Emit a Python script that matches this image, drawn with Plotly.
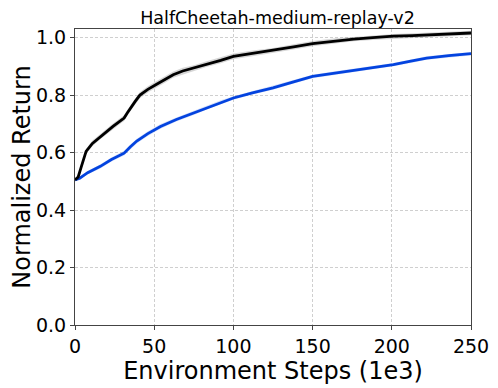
import plotly.graph_objects as go

# environment steps (1e3) and normalized return
steps_ours = [0, 2, 4, 7, 11, 16, 20, 24, 28, 31, 33, 35, 38, 41, 46, 51, 57, 62, 68, 75, 83, 92,
              100, 112, 125, 138, 150, 163, 176, 188, 201, 213, 226, 238, 250]
ret_ours = [0.505, 0.515, 0.551, 0.604, 0.632, 0.656, 0.672, 0.691, 0.708, 0.720, 0.738, 0.755,
            0.778, 0.800, 0.820, 0.836, 0.855, 0.871, 0.884, 0.894, 0.908, 0.921,
            0.935, 0.945, 0.955, 0.968, 0.979, 0.988, 0.995, 1.000, 1.005, 1.007, 1.010, 1.013, 1.016]
std_ours = [0.004, 0.006, 0.008, 0.009, 0.010, 0.010, 0.010, 0.010, 0.010, 0.010, 0.010, 0.010,
            0.010, 0.011, 0.011, 0.011, 0.011, 0.011, 0.011, 0.010, 0.010, 0.010,
            0.010, 0.010, 0.009, 0.009, 0.009, 0.009, 0.008, 0.008, 0.008, 0.008, 0.008, 0.008, 0.008]

steps_base = [0, 3, 8, 16, 23, 31, 35, 39, 46, 54, 64, 75, 83, 92, 100, 112, 125, 138, 150, 163,
              176, 188, 201, 212, 222, 236, 250]
ret_base = [0.505, 0.511, 0.530, 0.552, 0.576, 0.598, 0.620, 0.640, 0.666, 0.691, 0.715, 0.738,
            0.757, 0.775, 0.790, 0.808, 0.825, 0.846, 0.865, 0.876, 0.886, 0.896, 0.906, 0.918,
            0.929, 0.937, 0.944]
std_base = [0.003, 0.005, 0.006, 0.007, 0.007, 0.008, 0.008, 0.008, 0.008, 0.008, 0.007, 0.007,
            0.007, 0.007, 0.006, 0.006, 0.006, 0.006, 0.006, 0.006, 0.006, 0.006, 0.006, 0.006,
            0.006, 0.006, 0.006]

x_ticks = [0, 50, 100, 150, 200, 250]
y_ticks = [0.0, 0.2, 0.4, 0.6, 0.8, 1.0]

series = [
    (steps_base, ret_base, std_base, "#0343df", "rgba(3,67,223,0.16)"),
    (steps_ours, ret_ours, std_ours, "black", "rgba(0,0,0,0.16)"),
]

fig = go.Figure()
for xs, ys, sd, col, fill in series:
    upper = [y + s for y, s in zip(ys, sd)]
    lower = [y - s for y, s in zip(ys, sd)]
    fig.add_trace(go.Scatter(x=xs + xs[::-1], y=upper + lower[::-1], fill="toself",
                             fillcolor=fill, line_width=0, mode="lines",
                             hoverinfo="skip", showlegend=False))
    fig.add_trace(go.Scatter(x=xs, y=ys, mode="lines", line=dict(color=col, width=2.8),
                             showlegend=False))

axis_common = dict(
    showline=True, linecolor="#444444", linewidth=1.2, mirror=True,
    ticks="outside", ticklen=4, tickcolor="#444444",
    showgrid=True, gridcolor="#cfcfcf", griddash="3px,2px", gridwidth=1,
    zeroline=False, tickfont=dict(size=19, color="black"), automargin=False,
)

fig.update_xaxes(range=[0, 250], tickvals=x_ticks,
                 title=dict(text="Environment Steps (1e3)", font=dict(size=24, color="black"), standoff=2),
                 **axis_common)
fig.update_yaxes(range=[0, 1.03], tickvals=y_ticks, tickformat=".1f",
                 title=dict(text="Normalized Return", font=dict(size=24, color="black"), standoff=6),
                 **axis_common)

# page body adds an 8px offset, so the figure is shifted up/left to compensate
fig.update_layout(
    width=490, height=380,
    margin=dict(l=67, r=27, t=21, b=63),
    font=dict(family="DejaVu Sans", color="black"),
    title=dict(text="HalfCheetah-medium-replay-v2", x=0.55, xanchor="center",
               y=1, yanchor="top", pad=dict(t=4), font=dict(size=17.5, color="black")),
    plot_bgcolor="white", paper_bgcolor="white",
)

fig.write_html("out.html")
